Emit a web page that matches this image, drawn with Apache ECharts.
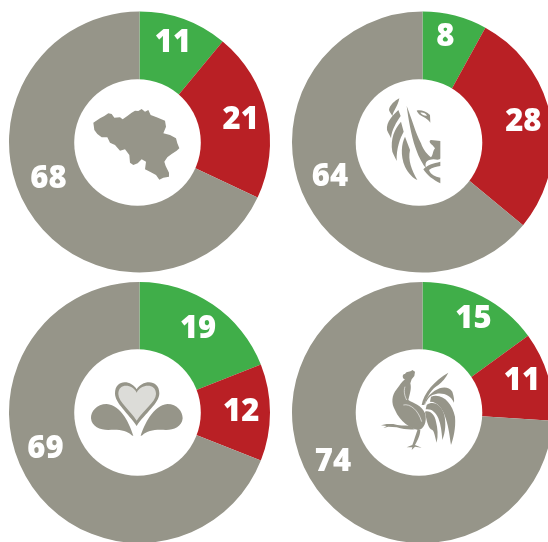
<!DOCTYPE html>
<html>
<head>
<meta charset="utf-8">
<style>html,body{margin:0;padding:0;background:#fff;overflow:hidden}#c{width:548px;height:542px}</style>
<script src="https://cdn.jsdelivr.net/npm/echarts@6/dist/echarts.min.js"></script>
</head>
<body>
<div id="c"></div>
<script>
// Data
const sliceNames = ['green', 'red', 'grey'];
const belgiumValues = [11, 21, 68];
const flandersValues = [8, 28, 64];
const communityValues = [19, 12, 69];
const walloniaValues = [15, 11, 74];

const GREEN = '#40ae49', RED = '#b92025', GREY = '#969589', PALE = '#dcdcd8';

// Layout of each panel
const panels = [
  { values: belgiumValues,   c: [139.5, 142], hole: [137.5, 142.5], nudge: [[-3, 3], [-4, 2], [0, -21]], icon: [70, 80] },
  { values: flandersValues,  c: [422.5, 142], hole: [419, 142.5],   nudge: [[-4, 0], [-5, 0], [5, -11]], icon: [355, 80] },
  { values: communityValues, c: [139.5, 412.5], hole: [137.5, 412.5], nudge: [[-2, 6], [-6, 0], [-5, -24]], icon: [70, 350] },
  { values: walloniaValues,  c: [422.5, 412.5], hole: [419, 412.5],   nudge: [[2, 3], [-4, -1], [-11, -24]], icon: [355, 350] }
];

// Decorative icons, traced at 3x inside a 135x125 box
const belgiumIcon = [[GREY, 'M70 128L90 115L103 108L115 100L125 102L133 113L150 112L158 118L172 108L185 98L195 92L205 93L215 87L225 95L235 90L242 105L260 112L285 122L288 140L280 160L300 165L318 175L322 190L328 205L320 212L305 222L292 232L283 245L287 258L297 278L297 290L280 293L268 299L258 285L240 275L225 268L228 245L215 238L203 250L190 255L180 248L178 225L165 208L150 212L135 195L120 188L112 172L95 172L82 162L73 150Z']];
const lionIcon = [
  [GREY, 'M133 55C120 62 104 75 102 90C104 98 110 103 112 108C116 90 128 80 133 55Z'],
  [GREY, 'M130 90C115 105 93 125 96 150C100 160 106 168 108 175C110 150 125 125 137 108Z'],
  [GREY, 'M138 125C120 145 105 175 112 215C116 225 122 235 125 243C124 205 135 175 146 155Z'],
  [GREY, 'M150 170C140 190 135 225 150 260C160 280 175 295 187 300C170 270 158 240 165 210Z'],
  [GREY, 'M155 78C160 115 168 165 182 205C192 235 205 255 213 265C207 240 222 240 235 238C248 240 255 240 256 235L256 183L228 180C222 182 222 188 232 195L240 205C232 215 235 225 228 232C218 225 205 210 198 190C182 160 170 115 155 78Z'],
  [GREY, 'M205 268C215 285 235 300 256 310L256 293C240 290 228 285 222 270C232 262 245 260 256 258L256 245C235 250 215 255 205 268Z'],
  [GREY, 'M185 92C195 88 215 95 225 105L226 128C218 115 205 112 195 105C190 100 187 96 185 92Z'],
  ['#fff', 'M196 98C203 96 212 100 216 107C209 108 201 105 196 98Z']
];
const heartIcon = [
  [GREY, 'M200 118C185 90 135 85 135 130C135 160 175 190 200 228C225 190 268 160 268 130C268 85 215 90 200 118Z'],
  [PALE, 'M200 128C188 102 145 98 145 132C145 156 182 182 200 212C218 182 258 156 258 132C258 98 212 102 200 128Z'],
  [GREY, 'M190 258C180 225 155 165 110 162C80 162 62 185 63 205C65 230 90 240 115 240C145 238 170 240 185 256Z'],
  [GREY, 'M212 258C222 225 250 165 292 162C322 162 338 185 338 205C336 230 312 240 288 240C258 238 232 240 217 256Z']
];
const roosterIcon = [
  [GREY, 'M150 88C140 85 142 70 150 72C155 62 165 68 172 60L180 65L178 78L170 88L166 100C170 115 165 130 160 150C175 160 200 165 210 190C218 215 205 240 190 240C165 235 135 215 120 180C108 160 110 135 125 118C135 105 140 95 150 88Z'],
  [GREY, 'M165 228C150 225 130 228 115 222L95 222L78 226L95 228L85 234L100 230L125 232C145 238 165 240 180 238Z'],
  [GREY, 'M188 238L196 240C195 260 185 275 180 285L200 293L180 290L170 300L172 292L155 292L172 285C178 270 182 255 188 238Z'],
  [GREY, 'M200 165C205 130 240 90 280 68C272 85 262 95 250 105C232 115 215 140 208 165Z'],
  [GREY, 'M212 150C235 115 275 100 292 125C297 140 298 150 297 158C285 130 255 125 232 135C222 140 215 150 210 165Z'],
  [GREY, 'M228 140C262 128 292 160 300 200C303 235 295 265 288 285C284 260 282 235 272 205C265 180 250 155 225 155Z'],
  [GREY, 'M215 165C235 150 260 165 268 195C273 220 272 245 262 270C260 245 258 225 250 205C242 185 228 175 212 178Z'],
  [GREY, 'M210 185C225 180 240 195 243 215C248 235 250 255 245 278C240 260 238 245 232 240C220 235 215 215 210 185Z'],
  [null, 'M145 165C165 160 190 180 200 215'],
  [null, 'M150 110C145 125 150 140 155 150']
];
const icons = [belgiumIcon, lionIcon, heartIcon, roosterIcon];

const series = [];
panels.forEach((p, i) => {
  const data = p.values.map((v, k) => ({ name: sliceNames[k], value: v }));
  const base = { type: 'pie', center: p.c, startAngle: 90, clockwise: true, animation: false, silent: true, avoidLabelOverlap: false, labelLine: { show: false }, emphasis: { disabled: true } };
  series.push(Object.assign({}, base, {
    z: 1,
    radius: [40, 130.5],
    label: { show: false },
    data: data.map((d, k) => Object.assign({}, d, { itemStyle: { color: [GREEN, RED, GREY][k] } }))
  }));
  series.push(Object.assign({}, base, {
    z: 2,
    radius: [79, 130.5],
    itemStyle: { color: 'transparent' },
    label: { show: true, position: 'inside', formatter: '{c}', color: '#fff', fontFamily: 'Open Sans', fontWeight: 800, fontSize: 31 },
    data: data.map((d, k) => Object.assign({}, d, { label: { offset: p.nudge[k] } }))
  }));
  series.push({
    type: 'custom', coordinateSystem: 'none', z: 3, silent: true, animation: false, data: [[i]],
    renderItem: () => ({
      type: 'group',
      children: [{ type: 'circle', shape: { cx: p.hole[0], cy: p.hole[1], r: 63.3 }, style: { fill: '#fff' } }].concat(
        icons[i].map(([fill, d]) => ({
          type: 'path',
          shape: { pathData: 'M0 0L0 0M405 375L405 375' + d, x: p.icon[0], y: p.icon[1], width: 135, height: 125, layout: 'cover' },
          style: fill ? { fill: fill } : { fill: 'none', stroke: '#fff', lineWidth: 0.6 }
        }))
      )
    })
  });
});

const chart = echarts.init(document.getElementById('c'), null, { renderer: 'canvas' });
chart.setOption({ backgroundColor: '#fff', animation: false, series: series });
</script>
</body>
</html>
